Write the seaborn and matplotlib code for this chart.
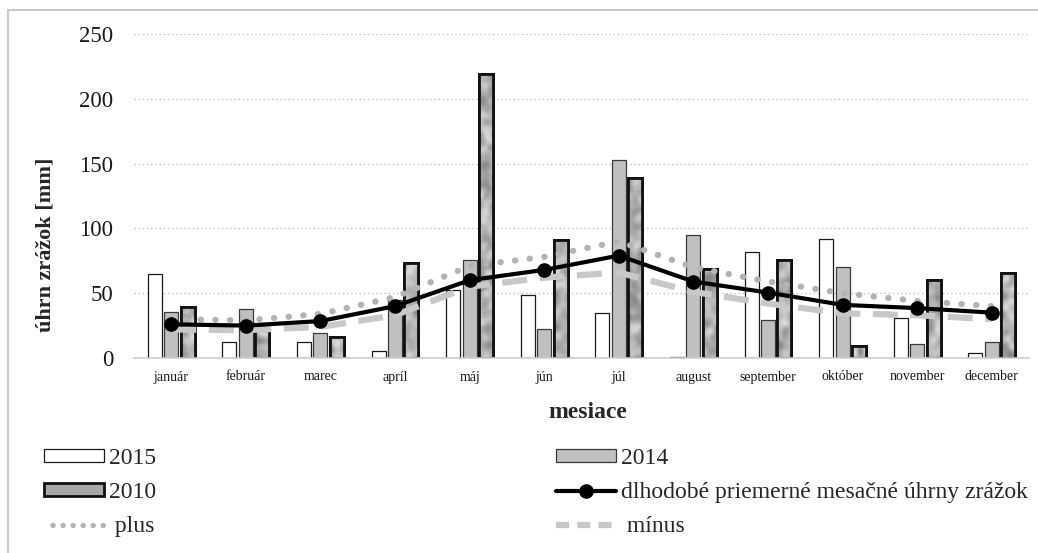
import numpy as np
import pandas as pd
import matplotlib
matplotlib.use("Agg")
import matplotlib.pyplot as plt
from matplotlib.patches import Rectangle, Patch
from matplotlib.lines import Line2D
import seaborn as sns

# Monthly precipitation totals [mm]
months = ["január", "február", "marec", "apríl", "máj", "jún",
          "júl", "august", "september", "október", "november", "december"]
y2015 = [65, 12.5, 12, 5.5, 52.5, 48.5, 34.5, 1, 81.5, 92, 30.5, 3.5]
y2014 = [35.5, 38, 19.5, 45, 75.5, 22.5, 152.5, 95, 29.5, 70.5, 11, 12]
y2010 = [39, 25, 16.5, 73.5, 219, 91, 139, 69, 76, 9.5, 60, 65.5]
# Long-term monthly mean and its upper / lower band
mean_lt = [26, 25, 28.5, 40, 60, 68, 79, 59, 50.5, 41, 38.5, 35]
plus = [30, 29, 34, 47, 71, 78, 90, 70, 59, 50, 44, 40]
minus = [22, 21.5, 24, 33, 55, 62, 66, 51, 42, 34.5, 33, 30]
years = ["2015", "2014", "2010"]

df = pd.DataFrame({
    "mesiac": months * 3,
    "rok": np.repeat(years, len(months)),
    "zrazky": y2015 + y2014 + y2010,
})

sns.set_theme(style="white")
plt.rcParams["font.family"] = ["Liberation Serif", "DejaVu Serif"]

W, H = 1038, 553
fig = plt.figure(figsize=(W / 100, H / 100), dpi=100)
ax_l, ax_r, ax_t, ax_b = 134, 1029, 34, 358
ax = fig.add_axes([ax_l / W, 1 - ax_b / H, (ax_r - ax_l) / W, (ax_b - ax_t) / H])

palette = {"2015": "#ffffff", "2014": "#c0c0c0", "2010": "#a8a8a8"}
sns.barplot(data=df, x="mesiac", y="zrazky", hue="rok", hue_order=years,
            order=months, palette=palette, width=0.66, gap=0.15,
            saturation=1, legend=False, ax=ax, zorder=2)

# bar outlines per series
edge = {"2015": (0.9, "#1a1a1a"), "2014": (0.9, "#3a3a3a"), "2010": (2.0, "#111111")}
for cont, yr in zip(ax.containers, years):
    lw, ec = edge[yr]
    for bar in cont:
        bar.set_edgecolor(ec)
        bar.set_linewidth(lw)


def smooth(a, n=3, passes=2):
    k = np.ones(n) / n
    for _ in range(passes):
        a = np.apply_along_axis(lambda r: np.convolve(r, k, mode="same"), 0, a)
        a = np.apply_along_axis(lambda r: np.convolve(r, k, mode="same"), 1, a)
    return a


def mottle(rows, cols, rng):
    pad = 4
    a = smooth(rng.random((rows + 2 * pad, cols + 2 * pad)))
    a = a[pad:-pad, pad:-pad]
    a = (a - a.min()) / (a.max() - a.min() + 1e-9)
    return 0.52 + 0.34 * a


# mottled fill for the 2010 bars (cells of roughly 2 px)
rng = np.random.default_rng(11)
px_per_unit = (ax_b - ax_t) / 250
for bar in ax.containers[2]:
    x0, w, h = bar.get_x(), bar.get_width(), bar.get_height()
    rows = max(int(h * px_per_unit / 2.2), 3)
    tex = mottle(rows, 7, rng)
    img = ax.imshow(tex, extent=(x0, x0 + w, 0, h), cmap="gray",
                    vmin=0, vmax=1, aspect="auto", zorder=2.1,
                    interpolation="bilinear")
    img.set_clip_path(bar)
    ax.add_patch(Rectangle((x0, 0), w, h, fill=False, edgecolor="#111111",
                           linewidth=2.0, zorder=2.2))

xs = np.arange(len(months))
plus_style = (0, (0.05, 2.3))
minus_style = (0, (4, 2))
ax.plot(xs, plus, linestyle=plus_style, dash_capstyle="round",
        color="#b3b3b3", linewidth=4.5, zorder=3)
ax.plot(xs, minus, linestyle=minus_style, color="#c8c8c8", linewidth=4.5, zorder=3)
ax.plot(xs, mean_lt, color="black", linewidth=3, marker="o", markersize=9.5, zorder=4)

ax.set_xlim(-0.5, len(months) - 0.5)
ax.set_ylim(0, 250)
ax.set_yticks(range(0, 251, 50))
ax.yaxis.grid(True, linestyle=(0, (1, 2)), color="#bfbfbf", linewidth=1)
ax.xaxis.grid(False)
ax.set_axisbelow(True)
for s in ["left", "right", "top"]:
    ax.spines[s].set_visible(False)
ax.spines["bottom"].set_color("#d0d0d0")
ax.spines["bottom"].set_linewidth(1.2)
ax.tick_params(axis="y", labelsize=16.5, length=0, pad=15, colors="#1a1a1a")
ax.tick_params(axis="x", labelsize=10, length=0, pad=9, colors="#1a1a1a")
ax.set_xlabel("mesiace", fontsize=17, fontweight="bold")
ax.xaxis.set_label_coords(0.507, -0.135)
ax.set_ylabel("úhrn zrážok [mm]", fontsize=16, fontweight="bold")
ax.yaxis.set_label_coords(-0.088, 0.349)

# legend in two columns
h2015 = Patch(facecolor="#ffffff", edgecolor="#1a1a1a", linewidth=0.9)
h2014 = Patch(facecolor="#c0c0c0", edgecolor="#3a3a3a", linewidth=0.9)
h2010 = Patch(facecolor="#a8a8a8", edgecolor="#111111", linewidth=2.0)
hmean = Line2D([], [], color="black", linewidth=3, marker="o", markersize=9.5)
hplus = Line2D([], [], linestyle=(0.3, (0.05, 1.85)), dash_capstyle="round",
               color="#b3b3b3", linewidth=3.8)
hminus = Line2D([], [], linestyle=(0, (2.1, 1.3)), color="#c8c8c8", linewidth=4.5)

common = dict(frameon=False, fontsize=17, handlelength=2.55, handleheight=0.45,
              handletextpad=0.2, labelspacing=0.55, borderaxespad=0, borderpad=0)
fig.legend([h2015, h2010, hplus], ["2015", "2010", " plus"],
           loc="upper left", bbox_to_anchor=(44 / W, 1 - 448 / H), **common)
fig.legend([h2014, hmean, hminus],
           ["2014", "dlhodobé priemerné mesačné úhrny zrážok", " mínus"],
           loc="upper left", bbox_to_anchor=(556 / W, 1 - 448 / H), **common)

# outer frame
fig.patches.append(Rectangle((8 / W, -0.05), 1.1, 1 - 10 / H + 0.05,
                             transform=fig.transFigure, fill=False,
                             edgecolor="#c8c8c8", linewidth=1.5))

fig.savefig("out.png", dpi=100)
